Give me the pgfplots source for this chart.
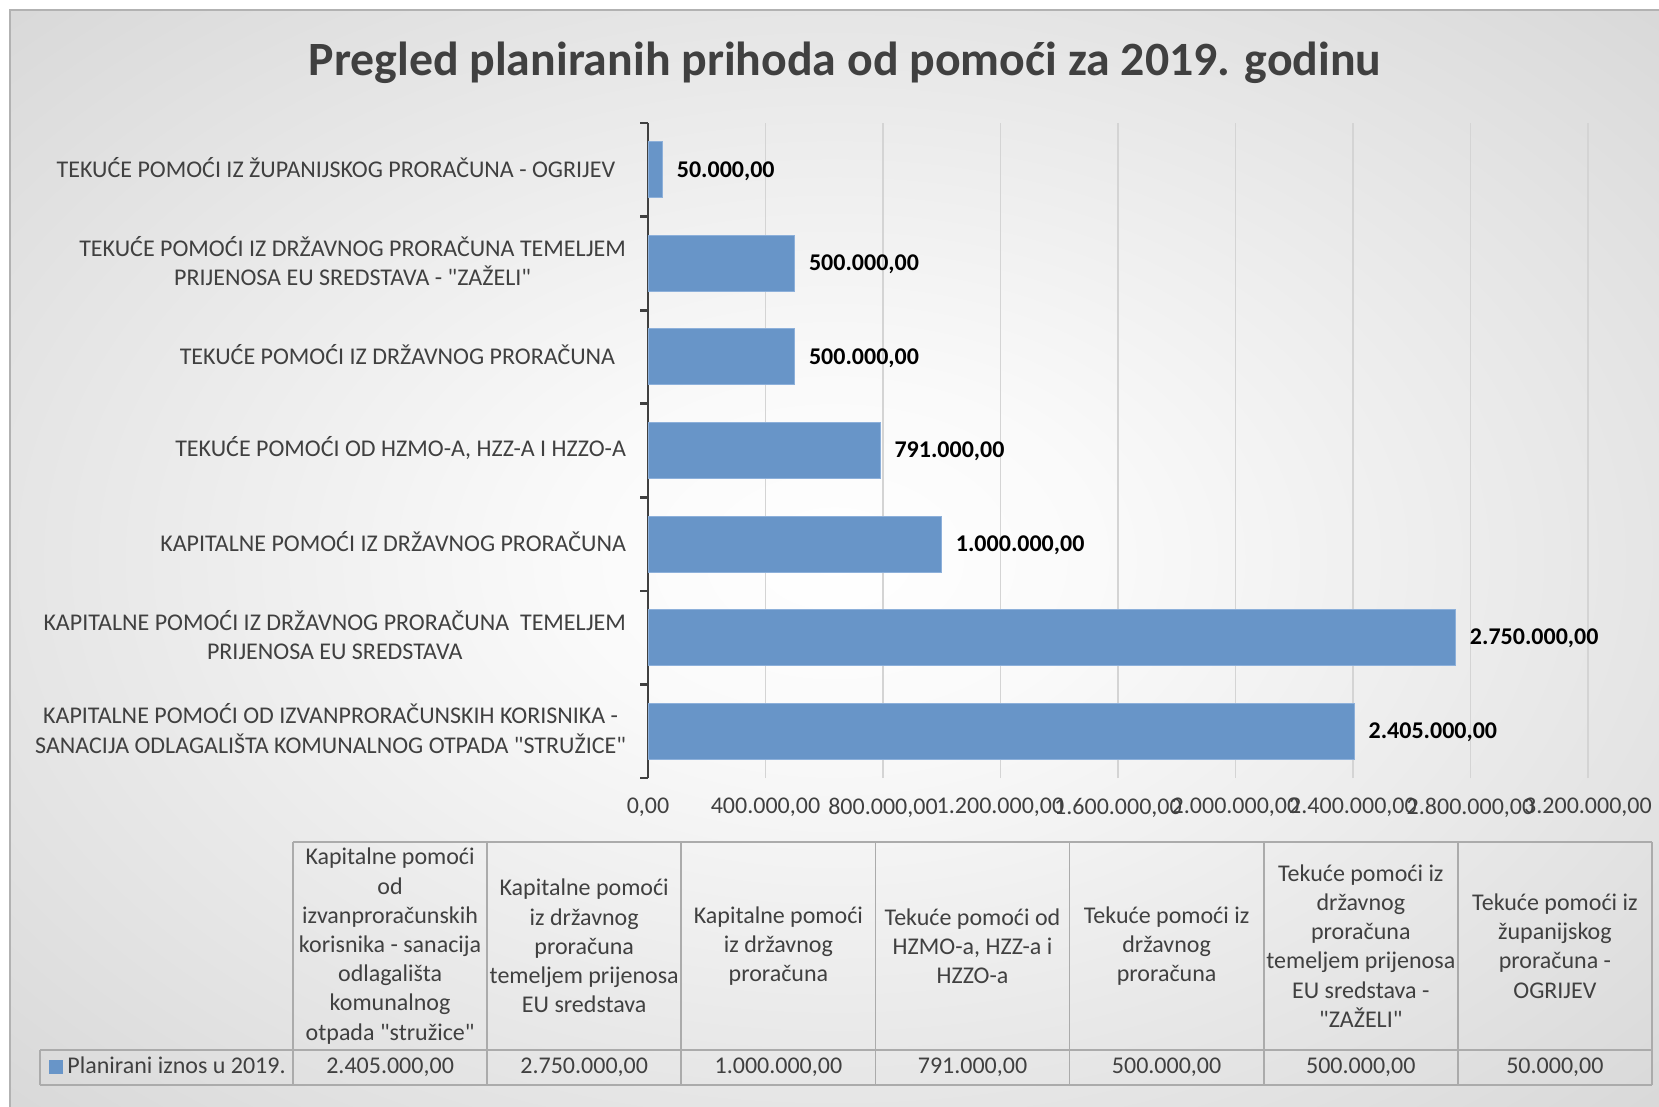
\documentclass[border=0pt]{standalone}
\usepackage{fontspec}
\setmainfont{Carlito}[Ligatures=TeXOff]
\usepackage{pgfplots}
\pgfplotsset{compat=1.18}
\definecolor{barblue}{HTML}{6895C8}
\definecolor{baredge}{HTML}{8DB0DA}
\definecolor{txt}{HTML}{404040}
\definecolor{gridc}{HTML}{D4D4D4}
\definecolor{tabline}{HTML}{ABABAB}
\pgfdeclareradialshading{bgshade}{\pgfpoint{0bp}{0bp}}{color(0bp)=(white); color(8bp)=(white!98!black); color(50bp)=(black!22)}
\newcommand{\tf}{\fontsize{12}{14.6}\selectfont}
\begin{document}
\begin{tikzpicture}
\begin{scope}[x=0.5pt,y=-0.5pt]
\fill[white] (0,0) rectangle (1659,1107);
\shade[shading=bgshade] (10,10) rectangle (1659,1107);
\draw[black!30, line width=0.6pt] (10,1107) -- (10,10) -- (1659,10);
\node[text=txt, font=\fontsize{23.9}{28}\selectfont\bfseries] at (845,63) {Pregled planiranih prihoda od pomoći za 2019. godinu};
\end{scope}
\begin{axis}[
  at={(324pt,-389pt)}, anchor=south west,
  width=470pt, height=327.5pt, scale only axis,
  xmin=0, xmax=3200000, ymin=-0.5, ymax=6.5,
  xbar, bar width=28pt,
  axis lines*=left,
  x axis line style={draw=none},
  y axis line style={draw=txt, line width=1.35pt},
  xtick={0,400000,800000,1200000,1600000,2000000,2400000,2800000,3200000},
  xticklabels={{0,00},{400.000,00},{800.000,00},{1.200.000,00},{1.600.000,00},{2.000.000,00},{2.400.000,00},{2.800.000,00},{3.200.000,00}},
  scaled x ticks=false,
  xmajorgrids, grid style={gridc, line width=0.7pt},
  x tick style={draw=none},
  ytick={-0.5,0.5,1.5,2.5,3.5,4.5,5.5,6.5}, yticklabels={,,,,,,,},
  y tick style={txt, line width=1.35pt},
  tick align=outside, major tick length=4pt,
  extra y ticks={0,1,2,3,4,5,6},
  extra y tick labels={{KAPITALNE POMOĆI OD IZVANPRORAČUNSKIH KORISNIKA -\\SANACIJA ODLAGALIŠTA KOMUNALNOG OTPADA "STRUŽICE"},
    {KAPITALNE POMOĆI IZ DRŽAVNOG PRORAČUNA \ TEMELJEM\\PRIJENOSA EU SREDSTAVA},
    {KAPITALNE POMOĆI IZ DRŽAVNOG PRORAČUNA},
    {TEKUĆE POMOĆI OD HZMO-A, HZZ-A I HZZO-A},
    {TEKUĆE POMOĆI IZ DRŽAVNOG PRORAČUNA\ \ },
    {TEKUĆE POMOĆI IZ DRŽAVNOG PRORAČUNA TEMELJEM\\PRIJENOSA EU SREDSTAVA - "ZAŽELI"},
    {TEKUĆE POMOĆI IZ ŽUPANIJSKOG PRORAČUNA - OGRIJEV\ \ }},
  extra y tick style={major tick length=0pt, tick style={draw=none}},
  tick label style={font=\fontsize{12}{14.8}\selectfont, text=txt},
  yticklabel style={align=center, xshift=-7.5pt, yshift=1.2pt},
  xticklabel style={yshift=-2.5pt},
  nodes near coords, point meta=explicit symbolic,
  nodes near coords style={font=\fontsize{12}{14}\selectfont\bfseries, text=black, anchor=west, xshift=3.5pt, yshift=-0.5pt},
  legend style={at={(-0.6372,-0.4405)}, anchor=west, draw=none, fill=none, inner sep=0pt, font=\tf, text=txt},
  legend image code/.code={\fill[barblue] (0pt,-3.25pt) rectangle (6.5pt,3.25pt);},
]
\addplot[fill=barblue, draw=baredge, line width=0.5pt] coordinates {
  (2405000,0) [2.405.000,00]
  (2750000,1) [2.750.000,00]
  (1000000,2) [1.000.000,00]
  (791000,3) [791.000,00]
  (500000,4) [500.000,00]
  (500000,5) [500.000,00]
  (50000,6) [50.000,00]
};
\addlegendentry{Planirani iznos u 2019.}
\end{axis}
\begin{scope}[x=0.5pt,y=-0.5pt]
\draw[tabline, line width=0.8pt] (293,842) -- (1652,842);
\draw[tabline, line width=0.8pt] (40,1050) -- (1652,1050);
\draw[tabline, line width=0.8pt] (40,1085) -- (1652,1085);
\draw[tabline, line width=0.8pt] (40,1050) -- (40,1085);
\foreach \k in {0,...,7} {
  \draw[tabline, line width=0.8pt] ({293+194.14*\k},842) -- ({293+194.14*\k},1085);
}
\tikzset{hdr/.style={text=txt, font=\tf, align=center, inner sep=0pt}}
\node[hdr] at (390.1,946) {Kapitalne pomoći\\od\\izvanproračunskih\\korisnika - sanacija\\odlagališta\\komunalnog\\otpada "stružice"};
\node[hdr] at (584.2,946) {Kapitalne pomoći\\iz državnog\\proračuna\\temeljem prijenosa\\EU sredstava};
\node[hdr] at (778.4,946) {Kapitalne pomoći\\iz državnog\\proračuna};
\node[hdr] at (972.5,946) {Tekuće pomoći od\\HZMO-a, HZZ-a i\\HZZO-a};
\node[hdr] at (1166.6,946) {Tekuće pomoći iz\\državnog\\proračuna};
\node[hdr] at (1360.8,946) {Tekuće pomoći iz\\državnog\\proračuna\\temeljem prijenosa\\EU sredstava -\\"ZAŽELI"};
\node[hdr] at (1554.9,946) {Tekuće pomoći iz\\županijskog\\proračuna -\\OGRIJEV};
\node[hdr] at (390.1,1067.5) {2.405.000,00};
\node[hdr] at (584.2,1067.5) {2.750.000,00};
\node[hdr] at (778.4,1067.5) {1.000.000,00};
\node[hdr] at (972.5,1067.5) {791.000,00};
\node[hdr] at (1166.6,1067.5) {500.000,00};
\node[hdr] at (1360.8,1067.5) {500.000,00};
\node[hdr] at (1554.9,1067.5) {50.000,00};
\end{scope}
\pgfresetboundingbox
\path[use as bounding box] (0pt,0pt) rectangle (829.5pt,-553.5pt);
\end{tikzpicture}
\end{document}
